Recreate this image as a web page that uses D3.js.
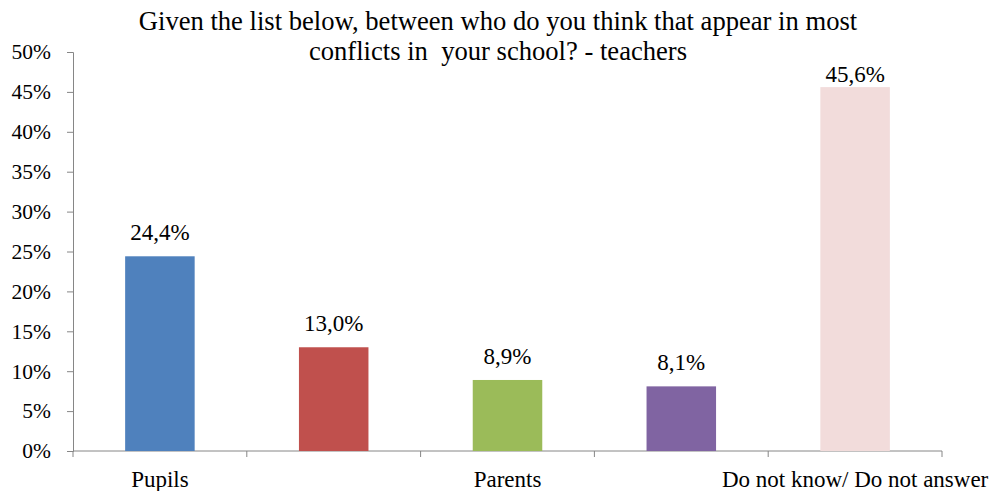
<!DOCTYPE html>
<html><head><meta charset="utf-8">
<script src="https://cdn.jsdelivr.net/npm/d3@7"></script>
<style>body{margin:0;background:#fff}svg{display:block}text{font-family:"Liberation Serif","Times New Roman",serif;fill:#000}</style>
</head><body>
<svg id="c" width="1000" height="491"></svg>
<script>
const categories = ["Pupils","Pupils and teachers","Parents","Teachers","Do not know/ Do not answer"];
const shownLabels = ["Pupils","","Parents","","Do not know/ Do not answer"];
const values = [24.4,13.0,8.9,8.1,45.6];
const colors = ["#4F81BD","#C0504D","#9BBB59","#8064A2","#F2DCDB"];
const yTicks = [0,5,10,15,20,25,30,35,40,45,50];
const titleLines = ["Given the list below, between who do you think that appear in most","conflicts in  your school? - teachers"];

const svg = d3.select("#c");
const m = {l:73, r:942, t:52, b:451};
const x = d3.scaleBand().domain(categories).range([m.l, m.r]).paddingInner(0.6).paddingOuter(0.3);
const xEdge = d3.scaleLinear().domain([0, categories.length]).range([m.l, m.r]);
const y = d3.scaleLinear().domain([0,50]).range([m.b, m.t]);

// title
svg.append("g").selectAll("text").data(titleLines).join("text")
  .attr("x", 498).attr("y",(d,i)=>30+i*30).attr("text-anchor","middle")
  .style("font-size","26.6px").style("white-space","pre").text(d=>d);

// y axis
const ya = svg.append("g").attr("transform",`translate(${m.l},0)`)
  .call(d3.axisLeft(y).tickValues(yTicks).tickSize(6).tickPadding(16).tickFormat(d=>d+"%"));
ya.selectAll("path,line").attr("stroke","#868686");
ya.selectAll("text").style("font-size","21.5px").style("font-family","Liberation Serif");

// x axis baseline + ticks
const xa = svg.append("g");
xa.append("line").attr("x1",m.l).attr("x2",m.r).attr("y1",m.b).attr("y2",m.b).attr("stroke","#868686");
xa.selectAll("line.t").data(d3.range(categories.length+1)).join("line").attr("class","t")
  .attr("x1",d=>xEdge(d)).attr("x2",d=>xEdge(d)).attr("y1",m.b).attr("y2",m.b+6).attr("stroke","#868686");

// bars
svg.append("g").selectAll("rect").data(values).join("rect")
  .attr("x",(d,i)=>x(categories[i])).attr("width",x.bandwidth())
  .attr("y",d=>y(d)).attr("height",d=>y(0)-y(d)).attr("fill",(d,i)=>colors[i]);

// value labels (clamped inside plot area like the original)
svg.append("g").selectAll("text").data(values).join("text")
  .attr("x",(d,i)=>x(categories[i])+x.bandwidth()/2).attr("y",d=>Math.max(y(d)-16, m.t+30))
  .attr("text-anchor","middle").style("font-size","23px")
  .text(d=>d.toFixed(1).replace(".",",")+"%");

// category labels
svg.append("g").selectAll("text").data(shownLabels).join("text")
  .attr("x",(d,i)=>x(categories[i])+x.bandwidth()/2).attr("y",487)
  .attr("text-anchor","middle").style("font-size","23px").text(d=>d);
</script>
</body></html>
